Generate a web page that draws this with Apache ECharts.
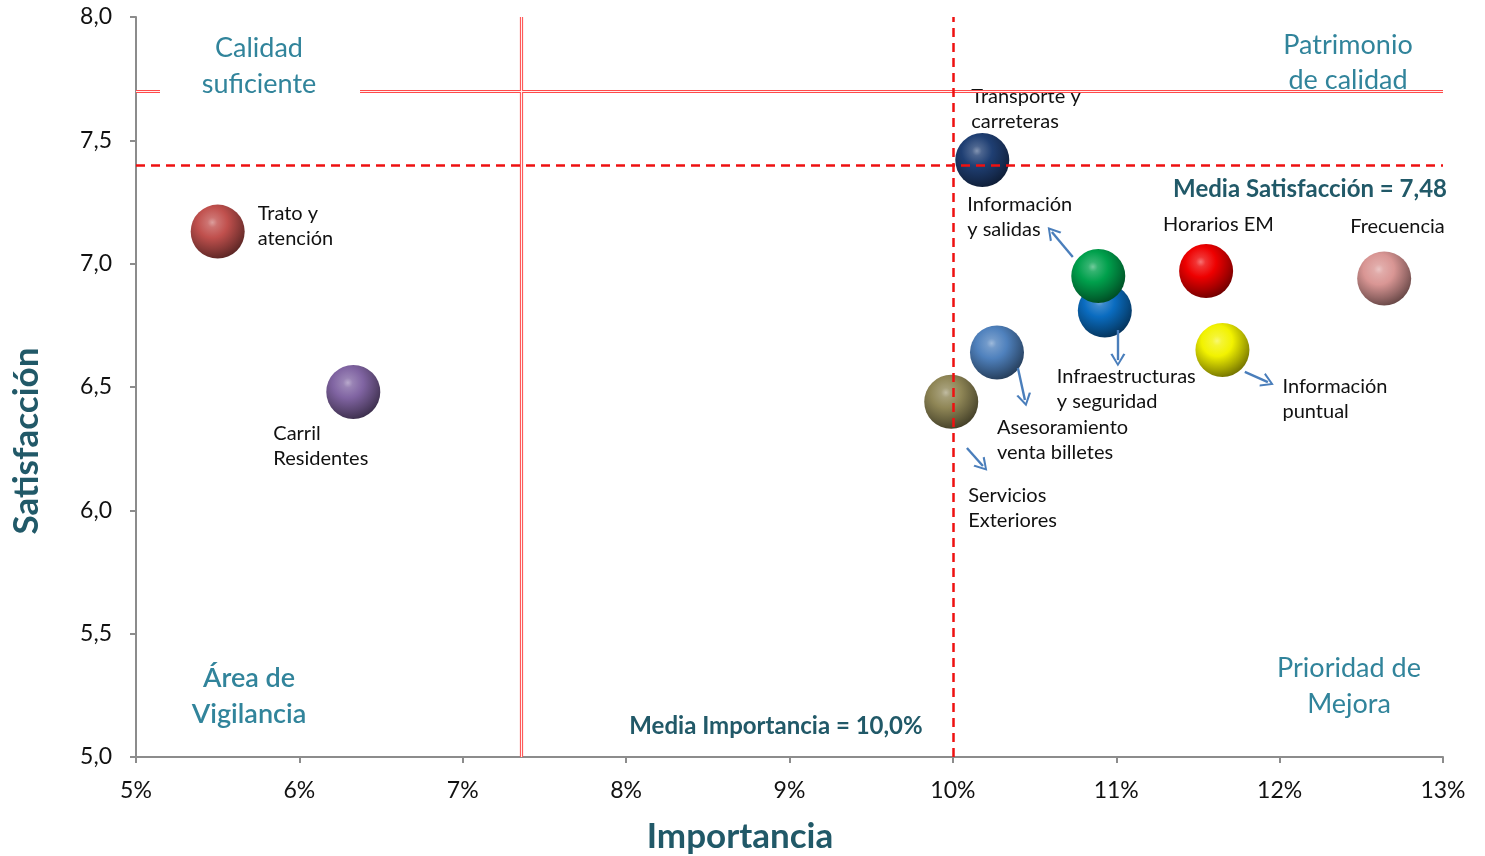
<!DOCTYPE html>
<html><head><meta charset="utf-8">
<script src="https://cdn.jsdelivr.net/npm/echarts@6/dist/echarts.min.js"></script>
<style>html,body{margin:0;padding:0;background:#fff;overflow:hidden}#c{width:1485px;height:856px}</style>
</head><body><div id="c"></div>
<script>
// ---- data ----
const names = ['Trato y\natención','Carril\nResidentes','Transporte y\ncarreteras','Infraestructuras\ny seguridad','Información\ny salidas','Horarios EM','Frecuencia','Información\npuntual','Asesoramiento\nventa billetes','Servicios\nExteriores'];
const importancia = [5.50, 6.33, 10.18, 10.93, 10.89, 11.55, 12.64, 11.65, 10.27, 9.99];
const satisfaccion = [7.13, 6.48, 7.42, 6.81, 6.95, 6.97, 6.94, 6.65, 6.64, 6.44];
const mediaImportancia = 10.0;
const mediaSatisfaccionLine = 7.40;
const mediaSatisfaccionText = 'Media Satisfacción = 7,48';
const mediaImportanciaText = 'Media Importancia = 10,0%';
const cuadranteX = 7.36;
const cuadranteY = 7.70;
const xTicks = {min:5, max:13, interval:1};
const yTicks = {min:5, max:8, interval:0.5};
const xTitle = 'Importancia';
const yTitle = 'Satisfacción';
// arrows: [x1,y1,x2,y2] in data units
const arrows = [
  [10.734, 7.027, 10.606, 7.128],
  [11.01, 6.731, 11.01, 6.609],
  [10.398, 6.577, 10.441, 6.447],
  [10.086, 6.253, 10.184, 6.180],
  [11.787, 6.561, 11.928, 6.520]
];

// ---- styles ----
const baseColors = ['#c0504d','#8064a2','#1f3f73','#0a6cc0','#00a04c','#ee0000','#d99694','#f2f200','#4f81bd','#8f8656'];
const labelOffsets = [[40,-18],[-80,42],[-11,-64],[-48,66],[-131,-71],[-43,-47],[-34,-52],[60,37],[0,75],[17,94]];
const SYM = 54;
function hex(c){return [parseInt(c.slice(1,3),16),parseInt(c.slice(3,5),16),parseInt(c.slice(5,7),16)];}
function mix(c,t,a){const p=hex(c),q=hex(t);return 'rgb('+p.map((v,i)=>Math.round(v*(1-a)+q[i]*a)).join(',')+')';}
function sphere(c){
  return {type:'radial',x:0.4,y:0.33,r:0.75,colorStops:[
    {offset:0,color:mix(c,'#ffffff',0.45)},
    {offset:0.12,color:mix(c,'#ffffff',0.2)},
    {offset:0.38,color:c},
    {offset:0.7,color:mix(c,'#000000',0.3)},
    {offset:1,color:mix(c,'#000000',0.6)}]};
}
const teal = '#31849b';
const darkTeal = '#215968';
const FONT = 'Lato, "Open Sans", sans-serif';

const chart = echarts.init(document.getElementById('c'));
const data = names.map((n,i)=>({
  value:[importancia[i],satisfaccion[i]],
  itemStyle:{color:sphere(baseColors[i]),opacity:1},
  label:{show:true,formatter:n,position:[SYM/2+labelOffsets[i][0], SYM/2+labelOffsets[i][1]-12.5],
    align:'left',verticalAlign:'top',fontSize:20,lineHeight:25,color:'#111',fontFamily:FONT}
}));

const option = {
  animation:false,
  grid:{left:136,right:42,top:17,bottom:99},
  xAxis:{type:'value',min:xTicks.min,max:xTicks.max,interval:xTicks.interval,
    axisLine:{lineStyle:{color:'#8c8c8c',width:2}},
    axisTick:{length:6,lineStyle:{color:'#8c8c8c',width:2}},
    axisLabel:{formatter:v=>v+'%',fontSize:23,color:'#111',margin:22,fontFamily:FONT},
    splitLine:{show:false}},
  yAxis:{type:'value',min:yTicks.min,max:yTicks.max,interval:yTicks.interval,
    axisLine:{show:true,lineStyle:{color:'#8c8c8c',width:2}},
    axisTick:{show:true,length:6,lineStyle:{color:'#8c8c8c',width:2}},
    axisLabel:{formatter:v=>v.toFixed(1).replace('.',','),fontSize:23,color:'#111',margin:24,fontFamily:FONT},
    splitLine:{show:false}},
  series:[
    {type:'scatter',z:1,data:[],silent:true,
      markLine:{silent:true,symbol:'none',label:{show:false},
        lineStyle:{color:'#ff4a4a',width:3.2,type:'solid'},
        data:[{xAxis:cuadranteX},{yAxis:cuadranteY}]}},
    {type:'scatter',z:1,data:[],silent:true,
      markLine:{silent:true,symbol:'none',label:{show:false},
        lineStyle:{color:'#fff0f0',width:1.2,type:'solid'},
        data:[{xAxis:cuadranteX},{yAxis:cuadranteY}]}},
    {type:'scatter',z:2,symbol:'circle',symbolSize:SYM,data:data,itemStyle:{opacity:1}},
    {type:'scatter',z:3,data:[],silent:true,
      markLine:{silent:true,symbol:'none',label:{show:false},
        lineStyle:{color:'#ee1111',width:2.5,type:[9,6]},
        data:[{xAxis:mediaImportancia},{yAxis:mediaSatisfaccionLine}]}},
    {type:'scatter',z:3,data:[],silent:true,
      markLine:{silent:true,symbol:['none','path://M0,10 L5,0 L10,10 L8.6,10.6 L5,3 L1.4,10.6 Z'],symbolSize:[15,13],
        label:{show:false},lineStyle:{color:'#4a7ebb',width:2.4,type:'solid'},
        itemStyle:{color:'#4a7ebb'},
        data:arrows.map(a=>[{coord:[a[0],a[1]]},{coord:[a[2],a[3]]}])}}
  ],
  graphic:[
    {type:'rect',z:99,shape:{x:160,y:28,width:200,height:74},style:{fill:'#fff'}},
    {type:'text',z:100,x:259,y:30,style:{text:'Calidad\nsuficiente',fill:teal,font:'27px '+FONT,lineHeight:36,align:'center',verticalAlign:'top'}},
    {type:'text',z:100,x:1348,y:28,style:{text:'Patrimonio\nde calidad',fill:teal,font:'27px '+FONT,lineHeight:35,align:'center',verticalAlign:'top'}},
    {type:'text',z:100,x:249,y:660,style:{text:'Área de\nVigilancia',fill:teal,font:'600 27px '+FONT,lineHeight:36,align:'center',verticalAlign:'top'}},
    {type:'text',z:100,x:1349,y:650,style:{text:'Prioridad de\nMejora',fill:teal,font:'27px '+FONT,lineHeight:36,align:'center',verticalAlign:'top'}},
    {type:'text',z:100,x:1447,y:189,style:{text:mediaSatisfaccionText,fill:darkTeal,font:'bold 24px '+FONT,align:'right',verticalAlign:'middle'}},
    {type:'text',z:100,x:776,y:726,style:{text:mediaImportanciaText,fill:darkTeal,font:'bold 24px '+FONT,align:'center',verticalAlign:'middle'}},
    {type:'text',z:100,x:740,y:837,style:{text:xTitle,fill:darkTeal,font:'bold 35px '+FONT,align:'center',verticalAlign:'middle'}},
    {type:'text',z:100,x:27,y:441,rotation:Math.PI/2,style:{text:yTitle,fill:darkTeal,font:'bold 35px '+FONT,align:'center',verticalAlign:'middle'}}
  ]
};
chart.setOption(option);
</script></body></html>
